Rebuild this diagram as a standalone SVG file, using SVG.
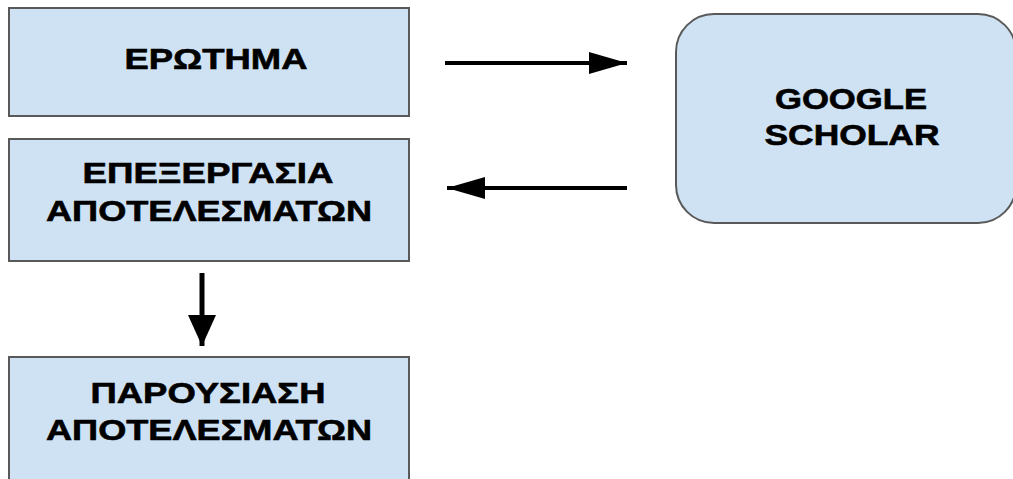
<svg xmlns="http://www.w3.org/2000/svg" width="1013" height="479" viewBox="0 0 1013 479">
<style>
.box{fill:#cfe2f3;stroke:#595959;stroke-width:2}
.t{font-family:"Liberation Sans",Arial,sans-serif;font-weight:bold;font-size:29px;fill:#000;stroke:#000;stroke-width:0.6;text-anchor:middle}
.c{stroke:#000;stroke-width:4;fill:none}
</style>
<defs>
<marker id="ah" markerUnits="userSpaceOnUse" markerWidth="40" markerHeight="24" refX="38" refY="11" orient="auto" viewBox="0 0 40 22">
<path d="M0,0 L38,11 L0,22 Z" fill="#000"/>
</marker>
<marker id="ahd" markerUnits="userSpaceOnUse" markerWidth="34" markerHeight="30" refX="31" refY="14" orient="auto" viewBox="0 0 34 28">
<path d="M0,0 L31,14 L0,28 Z" fill="#000"/>
</marker>
</defs>
<rect width="1013" height="479" fill="#fff"/>
<g id="erotima">
<rect class="box" x="9" y="8" width="400" height="108"/>
<text class="t" x="216" y="69" textLength="183" lengthAdjust="spacingAndGlyphs">ΕΡΩΤΗΜΑ</text>
</g>
<g id="google-scholar">
<rect class="box" x="676" y="14" width="340" height="209" rx="38" ry="38"/>
<text class="t" x="851" y="109" textLength="152" lengthAdjust="spacingAndGlyphs">GOOGLE</text>
<text class="t" x="852" y="145" textLength="175" lengthAdjust="spacingAndGlyphs">SCHOLAR</text>
</g>
<g id="epexergasia">
<rect class="box" x="9" y="139" width="400" height="122"/>
<text class="t" x="208" y="183" textLength="251" lengthAdjust="spacingAndGlyphs">ΕΠΕΞΕΡΓΑΣΙΑ</text>
<text class="t" x="209" y="221" textLength="326" lengthAdjust="spacingAndGlyphs">ΑΠΟΤΕΛΕΣΜΑΤΩΝ</text>
</g>
<g id="parousiasi">
<rect class="box" x="9" y="357" width="400" height="140"/>
<text class="t" x="208" y="403" textLength="235" lengthAdjust="spacingAndGlyphs">ΠΑΡΟΥΣΙΑΣΗ</text>
<text class="t" x="209" y="440" textLength="326" lengthAdjust="spacingAndGlyphs">ΑΠΟΤΕΛΕΣΜΑΤΩΝ</text>
</g>
<g id="connectors">
<line class="c" x1="445" y1="63" x2="627" y2="63" marker-end="url(#ah)"/>
<line class="c" x1="627" y1="188" x2="447" y2="188" marker-end="url(#ah)"/>
<line class="c" x1="202" y1="273" x2="202" y2="346" marker-end="url(#ahd)" style="stroke-width:5"/>
</g>
</svg>
